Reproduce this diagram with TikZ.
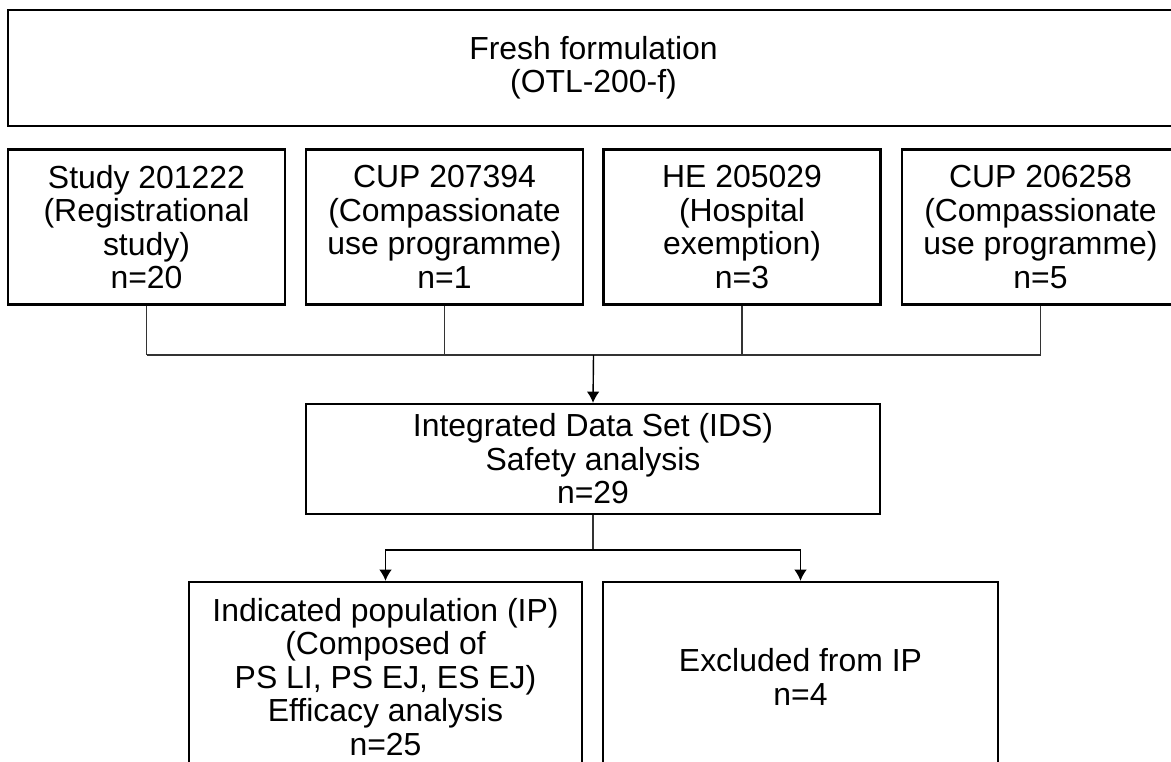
\documentclass[tikz,border=0pt]{standalone}
\usepackage{fontspec}
\setmainfont{Liberation Sans}
\usetikzlibrary{arrows.meta}

\begin{document}
\begin{tikzpicture}[x=0.025cm,y=-0.025cm,
    box/.style={draw,line width=1.6pt,align=center,inner sep=0pt,font=\fontsize{22.7}{23.8}\selectfont},
    conn/.style={draw=black!80,line width=1pt},
    arr/.style={conn,draw=black,-{Latex[length=8pt,width=9pt]}}]
    \useasboundingbox (0,0) rectangle (1171,762);
    \clip (0,0) rectangle (1171,762);
    \node[box,minimum width=29.275cm,minimum height=2.9cm] (fresh) at (593.5,68) {Fresh formulation\\(OTL-200-f)};
    \node[box,minimum width=6.925cm,minimum height=3.875cm] (study) at (146.5,227) {Study 201222\\(Registrational\\study)\\n=20};
    \node[box,minimum width=6.925cm,minimum height=3.875cm] (cupa) at (444.5,227) {CUP 207394\\(Compassionate\\use programme)\\n=1};
    \node[box,minimum width=6.925cm,minimum height=3.875cm] (he) at (742,227) {HE 205029\\(Hospital\\exemption)\\n=3};
    \node[box,minimum width=6.925cm,minimum height=3.875cm] (cupb) at (1040.5,227) {CUP 206258\\(Compassionate\\use programme)\\n=5};
    \node[box,minimum width=14.35cm,minimum height=2.75cm] (ids) at (593,459) {Integrated Data Set (IDS)\\Safety analysis\\n=29};
    \node[box,minimum width=9.825cm,minimum height=4.75cm] (ip) at (385.5,677) {Indicated population (IP)\\(Composed of\\PS LI, PS EJ, ES EJ)\\Efficacy analysis\\n=25};
    \node[box,minimum width=9.875cm,minimum height=4.75cm] (excl) at (800.5,677) {Excluded from IP\\n=4};
    \coordinate (join) at (593.5,355);
    \coordinate (split) at (593,550);
    \foreach \b in {study,cupa,he,cupb}
    \draw[conn] (\b.south) -- (\b.south |- join);
    \draw[conn] (study.south |- join) -- (cupb.south |- join);
    \draw[arr] (join) -- (ids.north);
    \draw[conn] (ids.south) -- (split);
    \draw[arr] (split) -| (ip.north);
    \draw[arr] (split) -| (excl.north);
\end{tikzpicture}
\end{document}
